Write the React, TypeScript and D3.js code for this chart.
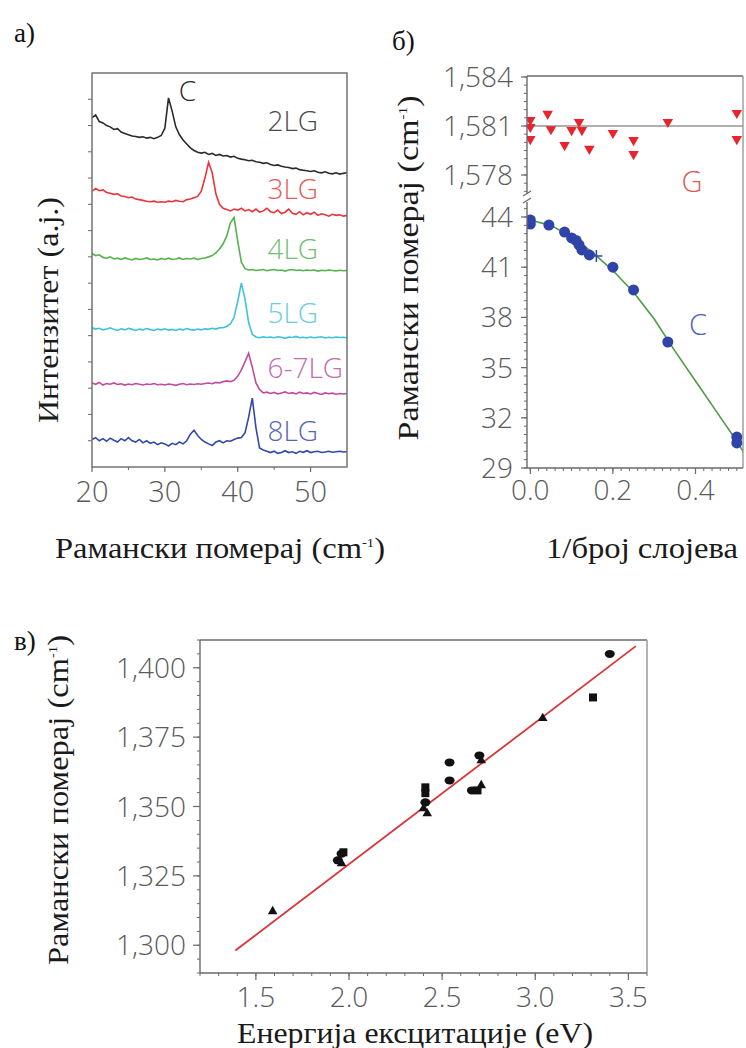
import React from "react";
import * as d3 from "d3";

// ---------- Panel a) : Raman spectra ----------
const ramanShift = d3.range(20, 55.001, 0.5);
const spectraLabels = ["2LG", "3LG", "4LG", "5LG", "6-7LG", "8LG"];
const spec2LG = [
  13.3, 13.4, 13.15, 13.1, 13.0, 12.95, 12.85, 12.88, 12.75, 12.7,
  12.65, 12.6, 12.58, 12.55, 12.57, 12.52, 12.55, 12.5, 12.55, 12.62,
  12.9, 14.05, 13.55, 12.95, 12.65, 12.45, 12.3, 12.15, 12.05, 11.98,
  11.95, 11.98, 11.9, 11.94, 11.86, 11.9, 11.84, 11.86, 11.8, 11.83,
  11.75, 11.72, 11.7, 11.66, 11.68, 11.62, 11.6, 11.56, 11.58, 11.52,
  11.48, 11.5, 11.45, 11.42, 11.4, 11.36, 11.38, 11.32, 11.3, 11.28,
  11.25, 11.28, 11.22, 11.2, 11.24, 11.18, 11.16, 11.2, 11.15, 11.18,
  11.2,
];
const spec3LG = [
  10.5, 10.6, 10.52, 10.55, 10.45, 10.42, 10.38, 10.4, 10.32, 10.3,
  10.25, 10.28, 10.2, 10.18, 10.15, 10.12, 10.1, 10.12, 10.08, 10.1,
  10.08, 10.12, 10.1, 10.15, 10.12, 10.1, 10.18, 10.2, 10.25, 10.3,
  10.5, 11.0, 11.6, 11.2, 10.4, 10.0, 9.85, 9.8, 9.75, 9.82,
  9.78, 9.85, 9.75, 9.8, 9.72, 9.82, 9.7, 9.75, 9.85, 9.72,
  9.68, 9.78, 9.65, 9.7, 9.82, 9.66, 9.62, 9.72, 9.6, 9.68,
  9.62, 9.7, 9.58, 9.64, 9.6, 9.55, 9.62, 9.58, 9.6, 9.55,
  9.58,
];
const spec4LG = [
  8.12, 8.05, 8.08, 7.98, 7.95, 8.0, 7.92, 7.95, 7.9, 7.96,
  7.92, 7.88, 7.94, 7.9, 7.92, 7.96, 7.9, 7.92, 7.88, 7.94,
  7.9, 7.95, 7.9, 7.92, 7.96, 7.9, 7.94, 7.92, 7.95, 7.9,
  7.94, 7.96, 8.0, 8.05, 8.15, 8.3, 8.5, 8.8, 9.3, 9.5,
  8.6, 7.8, 7.55, 7.5, 7.52, 7.48, 7.5, 7.52, 7.47, 7.5,
  7.52, 7.48, 7.5, 7.46, 7.5, 7.52, 7.48, 7.5, 7.47, 7.5,
  7.48, 7.5, 7.46, 7.49, 7.47, 7.5, 7.48, 7.46, 7.49, 7.47,
  7.48,
];
const spec5LG = [
  5.3, 5.25, 5.28, 5.22, 5.25, 5.3, 5.24, 5.2, 5.26, 5.22,
  5.28, 5.24, 5.2, 5.25, 5.22, 5.27, 5.23, 5.2, 5.25, 5.22,
  5.26, 5.21, 5.24, 5.2, 5.25, 5.22, 5.27, 5.23, 5.21, 5.25,
  5.22, 5.26, 5.24, 5.28, 5.25, 5.3, 5.3, 5.35, 5.45, 5.7,
  6.3, 7.0, 6.4, 5.5, 5.05, 4.95, 4.92, 4.96, 4.93, 4.95,
  4.92, 4.96, 4.94, 4.9, 4.95, 4.93, 4.97, 4.92, 4.94, 4.91,
  4.95, 4.92, 4.94, 4.96, 4.91, 4.94, 4.92, 4.95, 4.93, 4.94,
  4.92,
];
const spec67LG = [
  3.2, 3.15, 3.22, 3.12, 3.18, 3.15, 3.2, 3.14, 3.17, 3.12,
  3.16, 3.13, 3.18, 3.15, 3.12, 3.16, 3.14, 3.18, 3.13, 3.15,
  3.12, 3.16, 3.14, 3.11, 3.15, 3.18, 3.13, 3.16, 3.14, 3.17,
  3.15, 3.18, 3.2, 3.17, 3.22, 3.2, 3.25, 3.28, 3.25, 3.3,
  3.45, 3.7, 4.0, 4.33, 3.8, 3.2, 2.95, 2.82, 2.85, 2.8,
  2.84, 2.78, 2.82, 2.86, 2.8, 2.83, 2.78, 2.85, 2.8, 2.82,
  2.78, 2.84, 2.8, 2.76, 2.82, 2.79, 2.81, 2.77, 2.8, 2.78,
  2.8,
];
const spec8LG = [
  1.05, 1.12, 1.0, 1.08, 0.98, 1.1, 1.02, 0.95, 1.08, 1.0,
  1.12, 1.0, 0.95, 1.05, 0.92, 1.0, 0.9, 0.95, 0.85, 0.92,
  0.88, 0.8, 0.9, 0.85, 0.95, 0.88, 1.0, 1.25, 1.4, 1.2,
  1.05, 0.95, 0.88, 0.82, 0.95, 1.0, 0.92, 1.0, 0.98, 1.05,
  1.1, 1.12, 1.3, 1.9, 2.62, 1.5, 0.72, 0.65, 0.6, 0.55,
  0.6, 0.52, 0.55, 0.62, 0.55, 0.58, 0.52, 0.6, 0.56, 0.62,
  0.55, 0.58, 0.6, 0.55, 0.57, 0.6, 0.56, 0.58, 0.6, 0.57,
  0.58,
];
const spectra = [spec2LG, spec3LG, spec4LG, spec5LG, spec67LG, spec8LG];
const spectraLabelBase = [12.8, 10.2, 7.9, 5.5, 3.4, 1.0];
const aXTicks = [20, 30, 40, 50];
const aXMinor = [25, 35, 45];

// ---------- Panel б) : peak position vs 1/N ----------
const gInvN = [0, 0, 0, 0.042, 0.05, 0.083, 0.1, 0.118, 0.125, 0.143, 0.2, 0.25, 0.25, 0.333, 0.5, 0.5];
const gShift = [1581.37, 1580.94, 1580.2, 1581.74, 1580.8, 1579.83, 1580.75, 1581.25, 1580.75, 1579.6, 1580.57, 1580.14, 1579.28, 1581.25, 1581.8, 1580.2];
const gReference = 1581;
const cInvN = [0, 0, 0.045, 0.083, 0.1, 0.111, 0.118, 0.125, 0.143, 0.2, 0.25, 0.333, 0.5, 0.5];
const cShift = [43.82, 43.58, 43.52, 43.1, 42.75, 42.6, 42.33, 42.03, 41.73, 41.0, 39.64, 36.53, 30.85, 30.5];
const cCrossInvN = [0.16];
const cCrossShift = [41.67];
const fitInvN = [0, 0.05, 0.1, 0.15, 0.2, 0.25, 0.3, 0.35, 0.4, 0.45, 0.5, 0.52];
const fitC = [43.8, 43.5, 42.8, 41.9, 40.8, 39.5, 37.9, 36.0, 34.2, 32.4, 30.6, 29.8];
const bUpperTicks = [1578, 1581, 1584];
const bUpperLabels = ["1,578", "1,581", "1,584"];
const bLowerTicks = [29, 32, 35, 38, 41, 44];
const bXTicks = [0, 0.2, 0.4];
const bXLabels = ["0.0", "0.2", "0.4"];

// ---------- Panel в) : D peak vs excitation energy ----------
const excEnergy = [1.59, 1.94, 1.96, 1.97, 1.96, 2.41, 2.41, 2.41, 2.4, 2.42, 2.54, 2.54, 2.7, 2.71, 2.66, 2.69, 2.71, 3.04, 3.31, 3.4];
const dShift = [1312.2, 1330.6, 1333, 1333.5, 1329.5, 1356.9, 1354.8, 1351.5, 1349.3, 1347.5, 1365.9, 1359.4, 1368.4, 1366.6, 1355.8, 1355.8, 1357.6, 1381.8, 1389.3, 1405];
const dShape = ["tri", "circ", "circ", "sq", "tri", "sq", "sq", "circ", "tri", "tri", "circ", "circ", "circ", "tri", "circ", "sq", "tri", "tri", "sq", "circ"];
const fitEnergy = [1.39, 3.54];
const fitDShift = [1298.1, 1407.8];
const cYTicks = [1300, 1325, 1350, 1375, 1400];
const cYLabels = ["1,300", "1,325", "1,350", "1,375", "1,400"];
const cXTicks = [1.5, 2.0, 2.5, 3.0, 3.5];

const SANS = "'Open Sans', 'Noto Sans', sans-serif";
const SERIF = "'Liberation Serif', 'DejaVu Serif', serif";
const TICK = "#5a5a5a";
const AXIS = "#6a6a6a";
const W = 300;

const specColors = ["#2a2a2a", "#e8343a", "#55b24e", "#3cc3dc", "#c34a9e", "#3448aa"];
const labelColors = ["#4a4a4a", "#e85a5a", "#70c070", "#6ccbe0", "#c56cb0", "#5565b5"];

function CmTitle({ x, y, rotate, length, text }: any) {
  const tr = rotate ? `translate(${x},${y}) rotate(-90)` : `translate(${x},${y})`;
  return (
    <text transform={tr} textAnchor="middle" fontFamily={SERIF} fontSize={29} fill="#1a1a1a"
      textLength={length} lengthAdjust="spacingAndGlyphs">
      {text} (cm<tspan fontSize={13} dy={-11}>-1</tspan><tspan dy={11}>)</tspan>
    </text>
  );
}

function PanelA() {
  const x = d3.scaleLinear().domain([20, 55]).range([92, 347]);
  const y = d3.scaleLinear().domain([0, 15]).range([467, 73]);
  const line = d3.line<number>().x((_, i) => x(ramanShift[i])).y((d) => y(d));
  const yTicks = d3.range(1, 15);
  return (
    <g>
      <text x={14} y={42} fontFamily={SERIF} fontSize={27} fill="#111">a)</text>
      <defs>
        <clipPath id="clipA"><rect x={92} y={73} width={255} height={394} /></clipPath>
      </defs>
      <g clipPath="url(#clipA)">
        {spectra.map((s, k) => (
          <path key={k} d={line(s) || ""} fill="none" stroke={specColors[k]} strokeWidth={1.6} />
        ))}
      </g>
      {spectraLabels.map((l, k) => (
        <text key={l} x={k === 4 ? 343 : 318} y={y(spectraLabelBase[k])} textAnchor="end"
          fontFamily={SANS} fontWeight={W} fontSize={28} fill={labelColors[k]}>{l}</text>
      ))}
      <text x={x(30.8) + 8} y={y(14.1) + 4} fontFamily={SANS} fontWeight={W} fontSize={28} fill="#2a2a2a">C</text>
      <rect x={92} y={73} width={255} height={394} fill="none" stroke={AXIS} strokeWidth={1.4} />
      {aXTicks.map((t) => (
        <g key={t}>
          <line x1={x(t)} x2={x(t)} y1={467} y2={472} stroke={AXIS} strokeWidth={1.2} />
          <text x={x(t)} y={502} textAnchor="middle" fontFamily={SANS} fontWeight={W} fontSize={29} fill={TICK}>{t}</text>
        </g>
      ))}
      {aXMinor.map((t) => (
        <line key={t} x1={x(t)} x2={x(t)} y1={467} y2={470} stroke={AXIS} strokeWidth={1} />
      ))}
      {yTicks.map((t) => (
        <line key={t} x1={88} x2={92} y1={y(t)} y2={y(t)} stroke={AXIS} strokeWidth={1} />
      ))}
      <text transform="translate(58,310) rotate(-90)" textAnchor="middle" fontFamily={SERIF} fontSize={29}
        fill="#1a1a1a" textLength={226} lengthAdjust="spacingAndGlyphs">Интензитет (a.j.)</text>
      <CmTitle x={220} y={558} length={330} text="Рамански померај" />
    </g>
  );
}

function PanelB() {
  const left = 527, right = 743, top = 76, bottom = 468;
  const x = d3.scaleLinear().domain([-0.008, 0.515]).range([left, right]);
  const yU = d3.scaleLinear().domain([1578, 1584]).range([175, 77]);
  const yL = d3.scaleLinear().domain([29, 44]).range([468, 217]);
  const breakY = 198;
  const fit = d3.line<number>().x((_, i) => x(fitInvN[i])).y((d) => yL(d));
  const tri = d3.symbol().type(d3.symbolTriangle).size(48)();
  const upperMinor = d3.range(1577, 1584.01, 0.5).filter((v) => yU(v) < breakY - 4);
  const lowerMinor = d3.range(29, 45.01, 0.5).filter((v) => yL(v) > breakY + 4);
  const xMinor = d3.range(0, 0.5001, 0.02);
  return (
    <g>
      <text x={392} y={50} fontFamily={SERIF} fontSize={27} fill="#111">б)</text>
      <defs>
        <clipPath id="clipB"><rect x={left} y={top} width={right - left} height={bottom - top} /></clipPath>
      </defs>
      <g clipPath="url(#clipB)">
        <line x1={left} x2={right} y1={yU(gReference)} y2={yU(gReference)} stroke="#b0b0b0" strokeWidth={2} />
        <path d={fit(fitC) || ""} fill="none" stroke="#4f9a45" strokeWidth={1.6} />
        {gInvN.map((v, i) => (
          <path key={i} d={tri || ""} transform={`translate(${x(v)},${yU(gShift[i])}) rotate(180)`} fill="#e8242c" />
        ))}
        {cInvN.map((v, i) => (
          <circle key={i} cx={x(v)} cy={yL(cShift[i])} r={5.5} fill="#2f43a8" />
        ))}
        {cCrossInvN.map((v, i) => (
          <g key={i} stroke="#2f43a8" strokeWidth={1.5}>
            <line x1={x(v) - 6} x2={x(v) + 6} y1={yL(cCrossShift[i])} y2={yL(cCrossShift[i])} />
            <line x1={x(v)} x2={x(v)} y1={yL(cCrossShift[i]) - 6} y2={yL(cCrossShift[i]) + 6} />
          </g>
        ))}
      </g>
      <line x1={left} x2={right} y1={top} y2={top} stroke={AXIS} strokeWidth={1.4} />
      <line x1={right} x2={right} y1={top} y2={bottom} stroke="#999" strokeWidth={1.4} />
      <line x1={left} x2={right} y1={bottom} y2={bottom} stroke={AXIS} strokeWidth={1.4} />
      <line x1={left} x2={left} y1={top} y2={breakY - 4} stroke={AXIS} strokeWidth={1.4} />
      <line x1={left} x2={left} y1={breakY + 4} y2={bottom} stroke={AXIS} strokeWidth={1.4} />
      <line x1={left - 4} x2={left + 4} y1={breakY - 2} y2={breakY - 7} stroke={AXIS} strokeWidth={1.2} />
      <line x1={left - 4} x2={left + 4} y1={breakY + 5} y2={breakY} stroke={AXIS} strokeWidth={1.2} />
      {upperMinor.map((v) => (
        <line key={"u" + v} x1={left - 3} x2={left} y1={yU(v)} y2={yU(v)} stroke={AXIS} strokeWidth={1} />
      ))}
      {lowerMinor.map((v) => (
        <line key={"l" + v} x1={left - 3} x2={left} y1={yL(v)} y2={yL(v)} stroke={AXIS} strokeWidth={1} />
      ))}
      {bUpperTicks.map((t, i) => (
        <g key={t}>
          <line x1={left - 6} x2={left} y1={yU(t)} y2={yU(t)} stroke={AXIS} strokeWidth={1.2} />
          <text x={left - 14} y={yU(t)} dy="0.36em" textAnchor="end" fontFamily={SANS} fontWeight={W} fontSize={28} fill={TICK}>{bUpperLabels[i]}</text>
        </g>
      ))}
      {bLowerTicks.map((t) => (
        <g key={t}>
          <line x1={left - 6} x2={left} y1={yL(t)} y2={yL(t)} stroke={AXIS} strokeWidth={1.2} />
          <text x={left - 14} y={yL(t)} dy="0.36em" textAnchor="end" fontFamily={SANS} fontWeight={W} fontSize={28} fill={TICK}>{t}</text>
        </g>
      ))}
      {xMinor.map((v) => (
        <line key={"x" + v} x1={x(v)} x2={x(v)} y1={bottom} y2={bottom + 3} stroke={AXIS} strokeWidth={1} />
      ))}
      {bXTicks.map((t, i) => (
        <g key={t}>
          <line x1={x(t)} x2={x(t)} y1={bottom} y2={bottom + 6} stroke={AXIS} strokeWidth={1.2} />
          <text x={x(t)} y={500} textAnchor="middle" fontFamily={SANS} fontWeight={W} fontSize={28} fill={TICK}>{bXLabels[i]}</text>
        </g>
      ))}
      <text x={692} y={192} textAnchor="middle" fontFamily={SANS} fontWeight={W} fontSize={29} fill="#e05a55">G</text>
      <text x={698} y={335} textAnchor="middle" fontFamily={SANS} fontWeight={W} fontSize={29} fill="#5060c0">C</text>
      <CmTitle x={418} y={268} rotate length={345} text="Рамански померај" />
      <text x={642} y={558} textAnchor="middle" fontFamily={SERIF} fontSize={29} fill="#1a1a1a"
        textLength={192} lengthAdjust="spacingAndGlyphs">1/број слојева</text>
    </g>
  );
}

function PanelC() {
  const left = 200, right = 647, top = 640, bottom = 973;
  const x = d3.scaleLinear().domain([1.2, 3.6]).range([left, right]);
  const y = d3.scaleLinear().domain([1290, 1410]).range([bottom, top]);
  const fit = d3.line<number>().x((_, i) => x(fitEnergy[i])).y((d) => y(d));
  const tri = d3.symbol().type(d3.symbolTriangle).size(40)();
  const yMinor = d3.range(1290, 1410.01, 5);
  const xMinor = d3.range(1.2, 3.601, 0.1);
  return (
    <g>
      <text x={14} y={650} fontFamily={SERIF} fontSize={27} fill="#111">в)</text>
      <line x1={left} x2={right} y1={top} y2={top} stroke={AXIS} strokeWidth={1.4} />
      <line x1={right} x2={right} y1={top} y2={bottom} stroke="#a0a0a0" strokeWidth={1.6} />
      <line x1={left} x2={left} y1={top} y2={bottom} stroke={AXIS} strokeWidth={1.4} />
      <line x1={left} x2={right} y1={bottom} y2={bottom} stroke={AXIS} strokeWidth={1.4} />
      <path d={fit(fitDShift) || ""} fill="none" stroke="#d9343a" strokeWidth={1.8} />
      {excEnergy.map((e, i) => {
        const cx = x(e), cy = y(dShift[i]);
        if (dShape[i] === "tri") return <path key={i} d={tri || ""} transform={`translate(${cx},${cy})`} fill="#111" />;
        if (dShape[i] === "sq") return <rect key={i} x={cx - 4} y={cy - 4} width={8} height={8} fill="#111" />;
        return <ellipse key={i} cx={cx} cy={cy} rx={5} ry={4} fill="#111" />;
      })}
      {yMinor.map((v) => (
        <line key={"ym" + v} x1={left - 3} x2={left} y1={y(v)} y2={y(v)} stroke={AXIS} strokeWidth={1} />
      ))}
      {cYTicks.map((t, i) => (
        <g key={t}>
          <line x1={left - 7} x2={left} y1={y(t)} y2={y(t)} stroke={AXIS} strokeWidth={1.2} />
          <text x={186} y={y(t)} dy="0.36em" textAnchor="end" fontFamily={SANS} fontWeight={W} fontSize={28} fill={TICK}>{cYLabels[i]}</text>
        </g>
      ))}
      {xMinor.map((v) => (
        <line key={"xm" + v} x1={x(v)} x2={x(v)} y1={bottom} y2={bottom + 3} stroke={AXIS} strokeWidth={1} />
      ))}
      {cXTicks.map((t) => (
        <g key={t}>
          <line x1={x(t)} x2={x(t)} y1={bottom} y2={bottom + 7} stroke={AXIS} strokeWidth={1.2} />
          <text x={x(t)} y={1007} textAnchor="middle" fontFamily={SANS} fontWeight={W} fontSize={28} fill={TICK}>{t.toFixed(1)}</text>
        </g>
      ))}
      <CmTitle x={68} y={800} rotate length={330} text="Рамански померај" />
      <text x={415} y={1043} textAnchor="middle" fontFamily={SERIF} fontSize={29} fill="#1a1a1a"
        textLength={356} lengthAdjust="spacingAndGlyphs">Енергија ексцитације (eV)</text>
    </g>
  );
}

export default function App() {
  return (
    <svg width={746} height={1048} style={{ position: "absolute", left: 0, top: 0, background: "#fff" }}>
      <rect x={0} y={0} width={746} height={1048} fill="#fff" />
      <PanelA />
      <PanelB />
      <PanelC />
    </svg>
  );
}
